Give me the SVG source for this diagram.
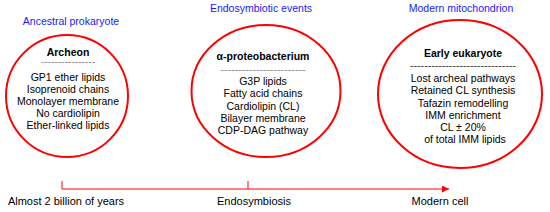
<svg xmlns="http://www.w3.org/2000/svg" width="550" height="212" viewBox="0 0 550 212">
<style>
.t{font-family:"Liberation Sans",Arial,sans-serif;font-size:10.5px;fill:#000;text-anchor:middle}
.b{font-weight:bold}
.d{font-family:"Liberation Sans",Arial,sans-serif;font-size:6px;fill:#000;text-anchor:middle}
.h{font-family:"Liberation Sans",Arial,sans-serif;font-size:10.5px;fill:#1a1aff;text-anchor:middle}
.tl{font-family:"Liberation Sans",Arial,sans-serif;font-size:11px;fill:#000;text-anchor:middle}
.c{fill:#fff;stroke:#ff0000;stroke-width:2}
.ln{stroke:#ff0000;stroke-width:1;fill:none}
</style>
<defs>
<marker id="ah" markerWidth="8" markerHeight="8" refX="7" refY="3.5" orient="auto" markerUnits="userSpaceOnUse">
<path d="M0,0 L7,3.5 L0,7 Z" fill="#ff0000"/>
</marker>
</defs>
<text class="h" x="71" y="25">Ancestral prokaryote</text>
<text class="h" x="261" y="12">Endosymbiotic events</text>
<text class="h" x="461" y="12">Modern mitochondrion</text>
<g id="archeon">
<ellipse class="c" cx="67" cy="96" rx="61" ry="61"/>
<text class="t b" x="68" y="56">Archeon</text>
<text class="d" x="68" y="64" textLength="54" lengthAdjust="spacingAndGlyphs">----------------</text>
<text class="t" x="68" y="81">GP1 ether lipids</text>
<text class="t" x="68" y="93">Isoprenoid chains</text>
<text class="t" x="68" y="105">Monolayer membrane</text>
<text class="t" x="68" y="117">No cardiolipin</text>
<text class="t" x="68" y="129">Ether-linked lipids</text>
</g>
<g id="proteobacterium">
<ellipse class="c" cx="266" cy="91" rx="74.5" ry="66"/>
<text class="t b" x="263" y="60">α-proteobacterium</text>
<text class="d" x="263" y="72" textLength="85" lengthAdjust="spacingAndGlyphs">------------------------</text>
<text class="t" x="263" y="85">G3P lipids</text>
<text class="t" x="263" y="97">Fatty acid chains</text>
<text class="t" x="263" y="110">Cardiolipin (CL)</text>
<text class="t" x="263" y="122">Bilayer membrane</text>
<text class="t" x="263" y="134">CDP-DAG pathway</text>
</g>
<g id="eukaryote">
<ellipse class="c" cx="460" cy="94" rx="82" ry="74"/>
<text class="t b" x="463" y="57">Early eukaryote</text>
<text class="d b" x="463" y="68" textLength="106" lengthAdjust="spacingAndGlyphs">------------------------------</text>
<text class="t" x="463" y="82">Lost archeal pathways</text>
<text class="t" x="463" y="94">Retained CL synthesis</text>
<text class="t" x="463" y="107">Tafazin remodelling</text>
<text class="t" x="463" y="119">IMM enrichment</text>
<text class="t" x="463" y="131">CL ± 20%</text>
<text class="t" x="465" y="143">of total IMM lipids</text>
</g>
<g id="connectors">
<line class="ln" x1="62" y1="181" x2="62" y2="189"/>
<line class="ln" x1="248" y1="181" x2="248" y2="189"/>
<line class="ln" x1="62" y1="189" x2="449" y2="189" marker-end="url(#ah)"/>
</g>
<text class="tl" x="66" y="205">Almost 2 billion of years</text>
<text class="tl" x="254" y="205">Endosymbiosis</text>
<text class="tl" x="440" y="205">Modern cell</text>
</svg>
